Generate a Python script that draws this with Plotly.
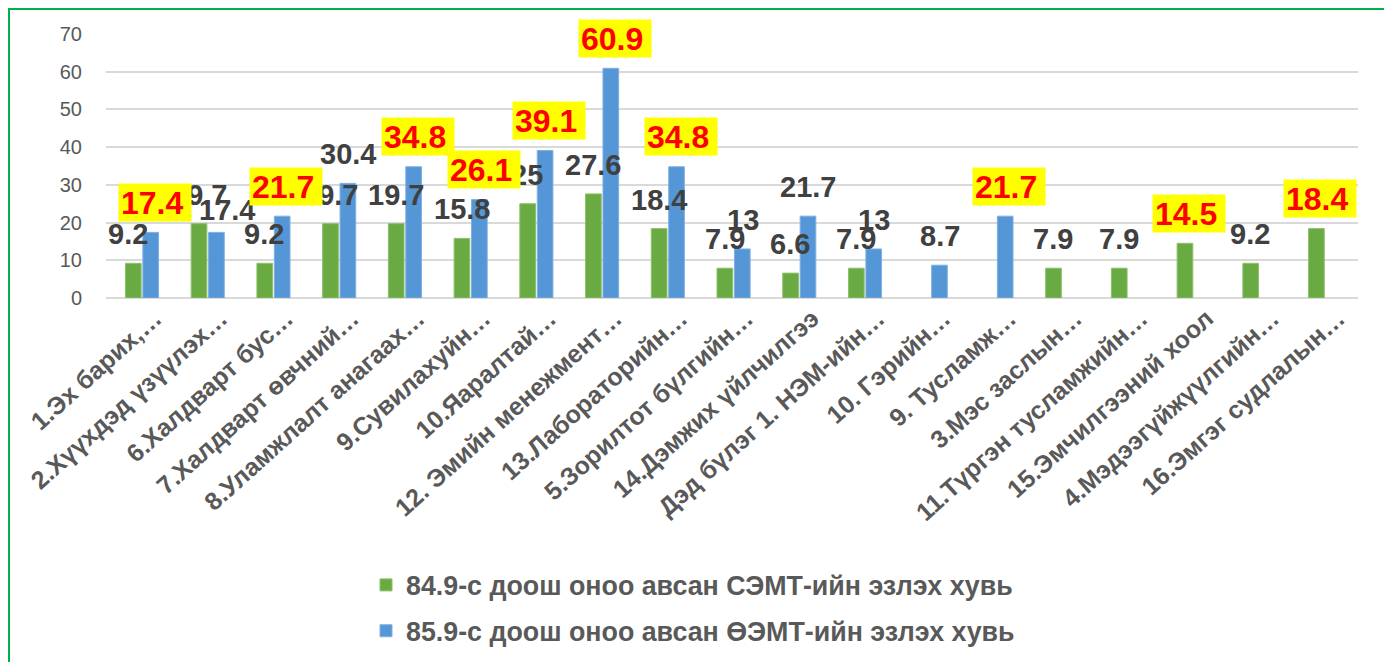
import plotly.graph_objects as go

# -- data ------------------------------------------------------------------------------------------ #
categories = ["1.Эх барих,…", "2.Хүүхдэд үзүүлэх…", "6.Халдварт бус…", "7.Халдварт өвчний…",
              "8.Уламжлалт анагаах…", "9.Сувилахуйн…", "10.Яаралтай…", "12. Эмийн менежмент…",
              "13.Лабораторийн…", "5.Зорилтот бүлгийн…", "14.Дэмжих үйлчилгээ",
              "Дэд бүлэг 1. НЭМ-ийн…", "10. Гэрийн…", "9. Тусламж…", "3.Мэс заслын…",
              "11.Түргэн тусламжийн…", "15.Эмчилгээний хоол", "4.Мэдээгүйжүүлгийн…",
              "16.Эмгэг судлалын…"]

green_name = "84.9-с доош оноо авсан СЭМТ-ийн эзлэх хувь"
blue_name = "85.9-с доош оноо авсан ӨЭМТ-ийн эзлэх хувь"

green_vals = [9.2, 19.7, 9.2, 19.7, 19.7, 15.8, 25, 27.6, 18.4, 7.9, 6.6, 7.9,
              None, None, 7.9, 7.9, 14.5, 9.2, 18.4]
blue_vals = [17.4, 17.4, 21.7, 30.4, 34.8, 26.1, 39.1, 60.9, 34.8, 13, 21.7, 13,
             8.7, 21.7, None, None, None, None, None]

y_ticks = [0, 10, 20, 30, 40, 50, 60, 70]

# which labels are highlighted (red on yellow)
hl_green = [16, 18]
hl_blue = [0, 2, 4, 5, 6, 7, 8, 13]

# -- theme ----------------------------------------------------------------------------------------- #
FONT = "Liberation Sans, Arial, sans-serif"
c_green = "#6AAA42"
c_blue = "#5596D6"
c_text = "#595959"
c_label = "#404040"

# the page has an 8px body margin, so the figure is a bit smaller than the window
W, H = 1384, 654
m_l, m_r, m_t, m_b = 98, 34, 26, 364
bar_off = 9  # px offset of each bar from category centre

# small manual nudges of some labels (px), like in the original
nudge = {("blue", 1): (10, -7), ("green", 0): (-5, 0)}

fig = go.Figure()
fig.add_trace(go.Bar(name=green_name, x=categories, y=green_vals, legendgroup="g",
                     marker=dict(color=c_green, line=dict(color="#8CC06A", width=1))))
fig.add_trace(go.Bar(name=blue_name, x=categories, y=blue_vals, legendgroup="b",
                     marker=dict(color=c_blue, line=dict(color="#7FB0E2", width=1))))

annotations = []
# plain labels first
for key, vals, sh, hl in [("green", green_vals, -bar_off, hl_green), ("blue", blue_vals, bar_off, hl_blue)]:
    for i, v in enumerate(vals):
        if v is None or i in hl:
            continue
        dx, dy = nudge.get((key, i), (0, 0))
        annotations.append(dict(x=categories[i], y=v, xref="x", yref="y", text=f"{v:g}",
                                showarrow=False, xshift=sh + dx, yshift=29 + dy,
                                font=dict(family=FONT, size=29, color=c_label, weight="bold")))
# highlighted labels on top
for key, vals, sh, hl in [("green", green_vals, -bar_off, hl_green), ("blue", blue_vals, bar_off, hl_blue)]:
    for i in hl:
        v = vals[i]
        annotations.append(dict(x=categories[i], y=v, xref="x", yref="y", text=f"{v:g}",
                                showarrow=False, xshift=sh + 4, yshift=30,
                                bgcolor="#FFFF00", width=68, height=33, align="left", borderpad=2,
                                font=dict(family=FONT, size=32, color="#FF0000", weight="bold")))

# green frame round the whole chart
pw, ph = W - m_l - m_r, H - m_t - m_b
frame = dict(type="rect", xref="paper", yref="paper",
             x0=(1 - m_l) / pw, x1=(1379 - m_l) / pw,
             y0=(H - m_b - 700) / ph, y1=(H - m_b - 1) / ph,
             line=dict(color="#00B050", width=2), fillcolor="rgba(0,0,0,0)", layer="above")

fig.update_layout(width=W, height=H, autosize=False,
                  paper_bgcolor="white", plot_bgcolor="white",
                  margin=dict(l=m_l, r=m_r, t=m_t, b=m_b, pad=0, autoexpand=False),
                  barmode="group", bargap=0.47, bargroupgap=0.1,
                  annotations=annotations, shapes=[frame],
                  font=dict(family=FONT, color=c_text))

fig.update_xaxes(type="category", tickmode="array", tickvals=categories, tickangle=-42,
                 showline=False, ticks="", ticklabelshift=13,
                 tickfont=dict(family=FONT, size=25, color=c_text, weight="bold"),
                 automargin=False)
fig.update_yaxes(range=[0, 70], tickvals=y_ticks, showgrid=True, gridcolor="#D9D9D9", gridwidth=1.5,
                 zeroline=True, zerolinecolor="#D9D9D9", zerolinewidth=1.5,
                 tickfont=dict(family=FONT, size=20, color=c_text), ticklabelstandoff=23,
                 automargin=False)

fig.update_layout(legend=dict(orientation="v", xref="container", yref="container",
                              x=358 / W, xanchor="left", y=1 - 553 / H, yanchor="top",
                              traceorder="grouped", tracegroupgap=8, itemwidth=30,
                              font=dict(family=FONT, size=26.8, color=c_text, weight="bold"),
                              bgcolor="rgba(0,0,0,0)"))

fig.write_html("out.html")
